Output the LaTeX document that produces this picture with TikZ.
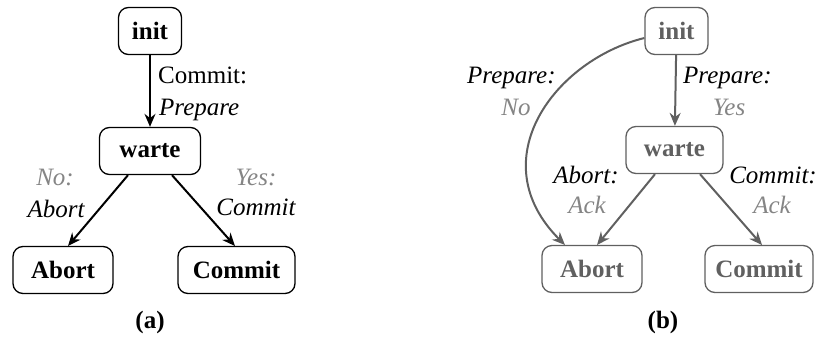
\documentclass[tikz,border=0pt]{standalone}
\usepackage{fontspec}
\setmainfont{Liberation Serif}
\usetikzlibrary{arrows.meta}
\definecolor{dim}{HTML}{606060}
\definecolor{lbl}{HTML}{858585}
\begin{document}
\begin{tikzpicture}[x=1pt,y=-1pt,
  state/.style={draw,rounded corners=10pt,line width=1.3pt,font=\fontsize{25}{30}\selectfont\bfseries,
    minimum height=47pt,inner xsep=8pt,inner ysep=0pt},
  conn/.style={line width=2pt,-{Stealth[length=13pt,width=11pt]}},
  lab/.style={font=\fontsize{25}{30}\selectfont,inner sep=0pt,anchor=base},
  subcap/.style={font=\fontsize{25}{30}\selectfont\bfseries,inner sep=0pt}]
\useasboundingbox (0,0) rectangle (817,341);

% ---- (a) ----
\node[state,minimum width=63pt] (ai) at (150,31) {init};
\node[state,minimum width=101pt] (aw) at (150,151) {warte};
\node[state,minimum width=100pt] (aa) at (63,270) {Abort};
\node[state,minimum width=117pt] (ac) at (236.5,270) {Commit};
\node[subcap] (ta) at (150,322) {(a)};

\draw[conn] (ai) -- (aw);
\draw[conn] (aw.south -| 128,0) -- (68,246) coordinate (aa1);
\draw[conn] (aw.south -| 172,0) -- (235,246) coordinate (ac1);

\node[lab,anchor=base west] (l1) at (158,83) {Commit:};
\node[lab,anchor=base west] (l2) at (159,115) {\itshape Prepare};
\node[lab,text=lbl] (l3) at (55,185) {\itshape No:};
\node[lab] (l4) at (56,217) {\itshape Abort};
\node[lab,text=lbl] (l5) at (256,185) {\itshape Yes:};
\node[lab] (l6) at (256,215) {\itshape Commit};

% ---- (b) ----
\node[state,draw=dim,text=dim,minimum width=63pt] (bi) at (676.5,31) {init};
\node[state,draw=dim,text=dim,minimum width=97pt] (bw) at (674.5,150) {warte};
\node[state,draw=dim,text=dim,minimum width=100pt] (ba) at (592,269) {Abort};
\node[state,draw=dim,text=dim,minimum width=108pt] (bc) at (759,269) {Commit};
\node[subcap] (tb) at (663,322) {(b)};

\draw[conn,draw=dim] (bi) -- (bw);
\draw[conn,draw=dim] (bi.west |- 0,38) .. controls (555,60) and (480,160) .. (565,245);
\draw[conn,draw=dim] (bw.south -| 655,0) -- (597,245);
\draw[conn,draw=dim] (bw.south -| 700,0) -- (762,245);

\node[lab,anchor=base west] (m1) at (467,83) {\itshape Prepare:};
\node[lab,text=lbl] (m2) at (516,115) {\itshape No};
\node[lab,anchor=base west] (m3) at (683,83) {\itshape Prepare:};
\node[lab,text=lbl] (m4) at (729,115) {\itshape Yes};
\node[lab] (m5) at (586,183) {\itshape Abort:};
\node[lab,text=lbl] (m6) at (587,213) {\itshape Ack};
\node[lab,anchor=base east] (m7) at (817,183) {\itshape Commit:};
\node[lab,text=lbl] (m8) at (772,213) {\itshape Ack};
\end{tikzpicture}
\end{document}
